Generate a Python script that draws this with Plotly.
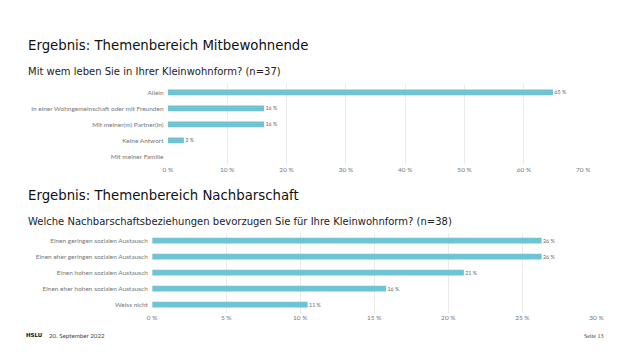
import plotly.graph_objects as go

# --- Data ---
cats1 = ["Allein", "In einer Wohngemeinschaft oder mit Freunden", "Mit meiner(m) Partner(in)",
         "Keine Antwort", "Mit meiner Familie"]
vals1 = [64.9, 16.2, 16.2, 2.7, 0.0]
labels1 = ["65 %", "16 %", "16 %", "3 %", ""]
ticks1 = [0, 10, 20, 30, 40, 50, 60, 70]

cats2 = ["Einen geringen sozialen Austausch", "Einen eher geringen sozialen Austausch",
         "Einen hohen sozialen Austausch", "Einen eher hohen sozialen Austausch", "Weiss nicht"]
vals2 = [26.3, 26.3, 21.05, 15.8, 10.5]
labels2 = ["26 %", "26 %", "21 %", "16 %", "11 %"]
ticks2 = [0, 5, 10, 15, 20, 25, 30]

BAR = "#6EC4D6"
TXT = "#666666"
AXFONT = dict(family="Lato, DejaVu Sans, sans-serif", size=6.5, color="#777777")
TITLEFONT = "DejaVu Sans, Verdana, sans-serif"

fig = go.Figure()
fig.add_trace(go.Bar(y=cats1, x=vals1, orientation="h", text=labels1, textposition="outside",
                     texttemplate="\u00a0%{text}", cliponaxis=False,
                     marker=dict(color=BAR, line=dict(width=0)), hoverinfo="skip",
                     width=0.36, textfont=dict(family=AXFONT["family"], size=6.5, color=TXT),
                     xaxis="x", yaxis="y", showlegend=False))
fig.add_trace(go.Bar(y=cats2, x=vals2, orientation="h", text=labels2, textposition="outside",
                     texttemplate="\u00a0%{text}", cliponaxis=False,
                     marker=dict(color=BAR, line=dict(width=0)), hoverinfo="skip",
                     width=0.36, textfont=dict(family=AXFONT["family"], size=6.5, color=TXT),
                     xaxis="x2", yaxis="y2", showlegend=False))

axis_common = dict(showgrid=True, gridcolor="#EBEBEB", gridwidth=1, zeroline=False,
                   showline=False, ticks="", tickfont=AXFONT, fixedrange=True)
yaxis_common = dict(categoryorder="array", autorange="reversed", tickfont=AXFONT, ticks="",
                    showgrid=False, zeroline=False, showline=False, ticksuffix="  ", fixedrange=True)

fig.update_layout(
    width=640, height=360, margin=dict(l=0, r=0, t=0, b=0),
    paper_bgcolor="white", plot_bgcolor="white", bargap=0.6,
    xaxis=dict(domain=[166/640, 589.3/640], range=[0, 70], tickvals=ticks1,
               ticktext=[f"{t} %" for t in ticks1], anchor="y", **axis_common),
    yaxis=dict(domain=[1-164.3/360, 1-84.3/360], categoryarray=cats1, anchor="x", **yaxis_common),
    xaxis2=dict(domain=[150/640, 602.7/640], range=[0, 30], tickvals=ticks2,
                ticktext=[f"{t} %" for t in ticks2], anchor="y2", **axis_common),
    yaxis2=dict(domain=[1-312.7/360, 1-232.7/360], categoryarray=cats2, anchor="x2", **yaxis_common),
)

ann = [
    dict(text="Ergebnis: Themenbereich Mitbewohnende", x=21, y=45, size=13.3, color="#111111"),
    dict(text="Mit wem leben Sie in Ihrer Kleinwohnform? (n=37)", x=21, y=71.5, size=10, color="#222222"),
    dict(text="Ergebnis: Themenbereich Nachbarschaft", x=21, y=195, size=13.3, color="#111111"),
    dict(text="Welche Nachbarschaftsbeziehungen bevorzugen Sie für Ihre Kleinwohnform? (n=38)", x=21, y=221.5, size=10, color="#222222"),
]
for a in ann:
    fig.add_annotation(text=a["text"], x=a["x"]/640, y=1-a["y"]/360, xref="paper", yref="paper",
                       xanchor="left", yanchor="middle", showarrow=False,
                       font=dict(family=TITLEFONT, size=a["size"], color=a["color"]))

fig.add_annotation(text="<b>HSLU</b>", x=19/640, y=1-335/360, xref="paper", yref="paper",
                   xanchor="left", yanchor="middle", showarrow=False,
                   font=dict(family="DejaVu Sans", size=5.5, color="#111111"))
fig.add_annotation(text="20. September 2022", x=43/640, y=1-335/360, xref="paper", yref="paper",
                   xanchor="left", yanchor="middle", showarrow=False,
                   font=dict(family="Lato, DejaVu Sans", size=6.2, color="#444444"))
fig.add_annotation(text="Seite 13", x=612/640, y=1-335.5/360, xref="paper", yref="paper",
                   xanchor="right", yanchor="middle", showarrow=False,
                   font=dict(family="Liberation Serif, serif", size=6, color="#444444"))

fig.write_html("out.html", config={"displayModeBar": False},
               post_script="document.body.style.margin='0';document.body.style.overflow='hidden';")
